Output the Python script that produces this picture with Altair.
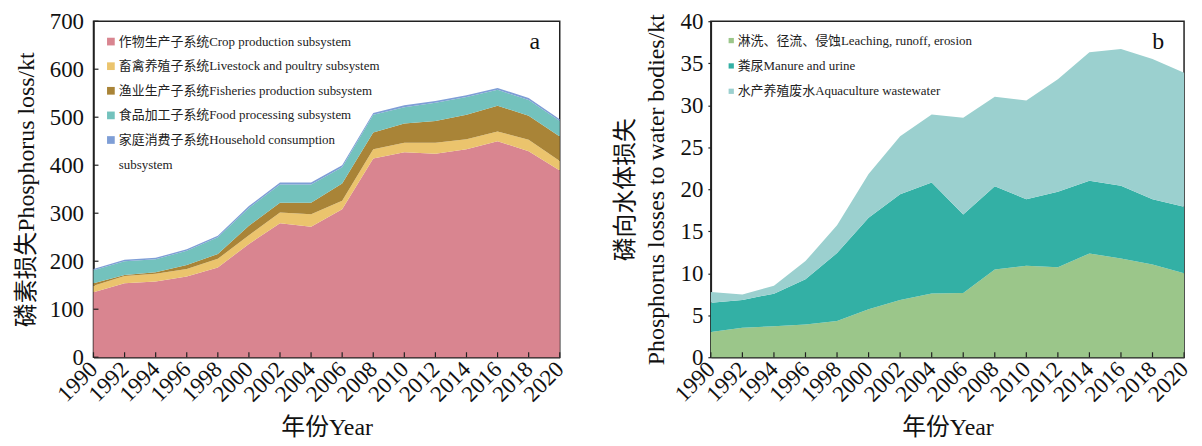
import altair as alt
import pandas as pd

FONT = "Liberation Serif, Noto Sans CJK SC"

years = [1990, 1992, 1994, 1996, 1998, 2000, 2002, 2004, 2006, 2008, 2010, 2012, 2014, 2016, 2018, 2020]

# Panel a: phosphorus loss by subsystem (kt), layer thickness
left_names = [
    "作物生产子系统Crop production subsystem",
    "畜禽养殖子系统Livestock and poultry subsystem",
    "渔业生产子系统Fisheries production subsystem",
    "食品加工子系统Food processing subsystem",
    "家庭消费子系统Household consumption subsystem",
]
left_colors = ["#D98590", "#EBC46D", "#A98437", "#73C2BD", "#7E9ED6"]
crop = [135.5, 154, 158, 168, 187, 236, 279, 272, 308, 414, 427, 424, 433, 450, 429, 389]
livestock = [13.5, 15, 16, 16, 18, 18, 22.5, 26, 18, 19.5, 20, 23, 21, 20, 24, 20]
fisheries = [5, 2.5, 3, 8, 10, 20, 20.5, 24, 36, 34.5, 40, 45, 51, 54, 50, 51]
food = [27, 28.5, 27, 30, 35, 37, 38, 38, 34, 37, 34, 38, 37, 33, 33, 32]
household = [3, 3, 3, 3, 3, 4, 4, 4, 4, 4, 4, 4, 4, 4, 4, 4]
left_yticks = [0, 100, 200, 300, 400, 500, 600, 700]

# Panel b: phosphorus losses to water bodies (kt), layer thickness
right_names = [
    "淋洗、径流、侵蚀Leaching, runoff, erosion",
    "粪尿Manure and urine",
    "水产养殖废水Aquaculture wastewater",
]
right_colors = ["#9BC68A", "#33B0A5", "#9BD0CF"]
leaching = [3.0, 3.5, 3.7, 3.9, 4.3, 5.7, 6.8, 7.6, 7.65, 10.45, 10.9, 10.7, 12.35, 11.75, 11.05, 10.0]
manure = [3.47, 3.32, 3.87, 5.37, 8.1, 10.9, 12.6, 13.2, 9.35, 9.9, 7.9, 9.0, 8.65, 8.65, 7.75, 7.9]
aquaculture = [1.3, 0.64, 0.95, 2.17, 3.3, 5.2, 6.9, 8.1, 11.5, 10.65, 11.77, 13.4, 15.3, 16.3, 16.7, 15.95]
right_yticks = [0, 5, 10, 15, 20, 25, 30, 35, 40]

W_L, W_R, H = 469, 476, 338

X_AXIS = alt.Axis(values=years, format="d", labelAngle=-45, labelAlign="right",
                  labelBaseline="middle", tickSize=0, labelPadding=8,
                  title="年份Year", titlePadding=10, grid=False, labelFlush=False,
                  labelOverlap=False, labelBound=False)
X_SCALE = alt.Scale(domain=[1990, 2020], nice=False, zero=False)

YL_AXIS = alt.Axis(values=left_yticks, title="磷素损失Phosphorus loss/kt",
                   tickSize=0, labelPadding=10, titlePadding=11, grid=False, labelOverlap=False)
YL_SCALE = alt.Scale(domain=[0, 700], nice=False)

YR_AXIS = alt.Axis(values=right_yticks,
                   title=["磷向水体损失", "Phosphorus losses to water bodies/kt"],
                   titleLineHeight=31, tickSize=3, labelPadding=5, titlePadding=12,
                   grid=False, labelOverlap=False)
YR_SCALE = alt.Scale(domain=[0, 40], nice=False)


def long_df(names, series, key):
    rows = []
    for k, (name, vals) in enumerate(zip(names, series)):
        for y, v in zip(years, vals):
            rows.append({"year": y, key: name, "value": v, "k": k})
    return pd.DataFrame(rows)


dfL = long_df(left_names, [crop, livestock, fisheries, food, household], "seriesL")
dfR = long_df(right_names, [leaching, manure, aquaculture], "seriesR")


def legend(x, y, size, offset, row_pad, household_key=None):
    kw = dict(title=None, orient="none", legendX=x, legendY=y, symbolType="square",
              symbolSize=size, symbolStrokeWidth=0, labelFont=FONT, labelFontSize=13,
              labelColor="#222", labelOffset=offset, rowPadding=row_pad, padding=0,
              labelLimit=500)
    if household_key:
        kw["labelExpr"] = ("datum.label == '%s' ? ['家庭消费子系统Household consumption', 'subsystem'] : datum.label"
                           % household_key)
    return alt.Legend(**kw)


def tick_layers(y_ticks, y_axis, y_scale, inward_y):
    tx = alt.Chart(pd.DataFrame({"year": years})).mark_rule(color="#222", strokeWidth=1.2).encode(
        x=alt.X("year:Q", axis=X_AXIS, scale=X_SCALE), y=alt.value(H), y2=alt.value(H - 5))
    layers = [tx]
    if inward_y:
        ty = alt.Chart(pd.DataFrame({"value": y_ticks})).mark_rule(color="#222", strokeWidth=1.2).encode(
            y=alt.Y("value:Q", axis=y_axis, scale=y_scale), x=alt.value(0), x2=alt.value(5))
        layers.append(ty)
    return layers


areaL = alt.Chart(dfL).mark_area(interpolate="linear", opacity=1).encode(
    x=alt.X("year:Q", axis=X_AXIS, scale=X_SCALE),
    y=alt.Y("value:Q", stack="zero", scale=YL_SCALE, axis=YL_AXIS),
    color=alt.Color("seriesL:N", scale=alt.Scale(domain=left_names, range=left_colors),
                    legend=legend(11, 14, 60, 1.5, 10.75, left_names[-1])),
    order=alt.Order("k:Q", sort="ascending"),
)
labA = alt.Chart(pd.DataFrame({"t": ["a"]})).mark_text(
    font=FONT, fontSize=24, align="center", baseline="alphabetic", color="#111"
).encode(text="t:N", x=alt.value(444), y=alt.value(28))
left = alt.layer(areaL, *tick_layers(left_yticks, YL_AXIS, YL_SCALE, True), labA).properties(
    width=W_L, height=H)

areaR = alt.Chart(dfR).mark_area(interpolate="linear", opacity=1).encode(
    x=alt.X("year:Q", axis=X_AXIS, scale=X_SCALE),
    y=alt.Y("value:Q", stack="zero", scale=YR_SCALE, axis=YR_AXIS),
    color=alt.Color("seriesR:N", scale=alt.Scale(domain=right_names, range=right_colors),
                    legend=legend(14, 13, 28, 0, 11.5)),
    order=alt.Order("k:Q", sort="ascending"),
)
labB = alt.Chart(pd.DataFrame({"t": ["b"]})).mark_text(
    font=FONT, fontSize=24, align="center", baseline="alphabetic", color="#111"
).encode(text="t:N", x=alt.value(450), y=alt.value(28))
right = alt.layer(areaR, *tick_layers(right_yticks, YR_AXIS, YR_SCALE, False), labB).properties(
    width=W_R, height=H)

chart = alt.hconcat(left, right, spacing=43).resolve_scale(color="independent").properties(
    padding={"left": 5, "top": 0, "right": 0, "bottom": 0}
).configure(
    style={"guide-label": {"lineHeight": 25}}
).configure_view(stroke="#222", strokeWidth=1.5).configure_axis(
    labelFont=FONT, titleFont=FONT, labelFontSize=23, titleFontSize=24,
    titleFontWeight="normal", labelColor="#111", titleColor="#111",
    domainColor="#222", domainWidth=1.5, tickColor="#222", tickWidth=1.2,
    labelOverlap=False,
)

chart.save("out.html", embed_options={"renderer": "svg", "actions": False})
